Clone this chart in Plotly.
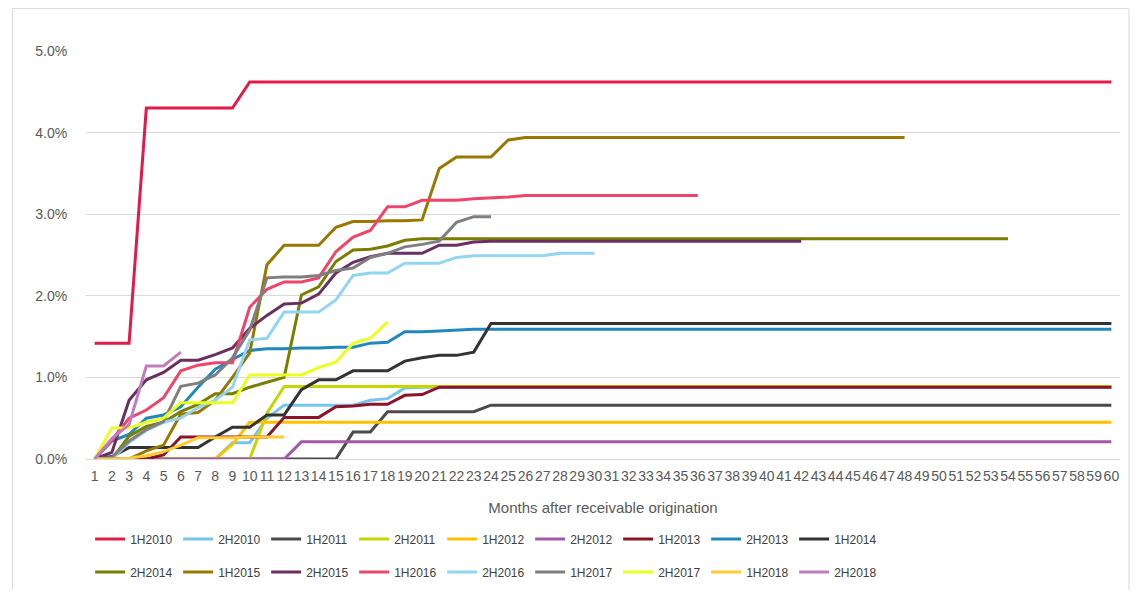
import plotly.graph_objects as go

months = list(range(1, 61))
month_labels = [str(m) for m in months]

series_names = ["1H2010", "2H2010", "1H2011", "2H2011", "1H2012", "2H2012",
                "1H2013", "2H2013", "1H2014", "2H2014", "1H2015", "2H2015",
                "1H2016", "2H2016", "1H2017", "2H2017", "1H2018", "2H2018"]

s_1H2010 = [1.42, 1.42, 1.42, 4.30, 4.30, 4.30, 4.30, 4.30, 4.30, 4.62,
            4.62, 4.62, 4.62, 4.62, 4.62, 4.62, 4.62, 4.62, 4.62, 4.62,
            4.62, 4.62, 4.62, 4.62, 4.62, 4.62, 4.62, 4.62, 4.62, 4.62,
            4.62, 4.62, 4.62, 4.62, 4.62, 4.62, 4.62, 4.62, 4.62, 4.62,
            4.62, 4.62, 4.62, 4.62, 4.62, 4.62, 4.62, 4.62, 4.62, 4.62,
            4.62, 4.62, 4.62, 4.62, 4.62, 4.62, 4.62, 4.62, 4.62, 4.62]
s_2H2010 = [0.00, 0.00, 0.00, 0.00, 0.00, 0.00, 0.00, 0.00, 0.20, 0.20,
            0.50, 0.66, 0.66, 0.66, 0.66, 0.66, 0.72, 0.74, 0.87, 0.88,
            0.88, 0.88, 0.88, 0.88, 0.88, 0.88, 0.88, 0.88, 0.88, 0.88,
            0.88, 0.88, 0.88, 0.88, 0.88, 0.88, 0.88, 0.88, 0.88, 0.88,
            0.88, 0.88, 0.88, 0.88, 0.88, 0.88, 0.88, 0.88, 0.88, 0.88,
            0.88, 0.88, 0.88, 0.88, 0.88, 0.88, 0.88, 0.88, 0.88, 0.88]
s_1H2011 = [0.00, 0.00, 0.00, 0.00, 0.00, 0.00, 0.00, 0.00, 0.00, 0.00,
            0.00, 0.00, 0.00, 0.00, 0.00, 0.33, 0.33, 0.58, 0.58, 0.58,
            0.58, 0.58, 0.58, 0.66, 0.66, 0.66, 0.66, 0.66, 0.66, 0.66,
            0.66, 0.66, 0.66, 0.66, 0.66, 0.66, 0.66, 0.66, 0.66, 0.66,
            0.66, 0.66, 0.66, 0.66, 0.66, 0.66, 0.66, 0.66, 0.66, 0.66,
            0.66, 0.66, 0.66, 0.66, 0.66, 0.66, 0.66, 0.66, 0.66, 0.66]
s_2H2011 = [0.00, 0.00, 0.00, 0.00, 0.00, 0.00, 0.00, 0.00, 0.00, 0.00,
            0.56, 0.89, 0.89, 0.89, 0.89, 0.89, 0.89, 0.89, 0.89, 0.89,
            0.89, 0.89, 0.89, 0.89, 0.89, 0.89, 0.89, 0.89, 0.89, 0.89,
            0.89, 0.89, 0.89, 0.89, 0.89, 0.89, 0.89, 0.89, 0.89, 0.89,
            0.89, 0.89, 0.89, 0.89, 0.89, 0.89, 0.89, 0.89, 0.89, 0.89,
            0.89, 0.89, 0.89, 0.89, 0.89, 0.89, 0.89, 0.89, 0.89, 0.89]
s_1H2012 = [0.00, 0.00, 0.00, 0.00, 0.00, 0.00, 0.00, 0.00, 0.18, 0.45,
            0.45, 0.45, 0.45, 0.45, 0.45, 0.45, 0.45, 0.45, 0.45, 0.45,
            0.45, 0.45, 0.45, 0.45, 0.45, 0.45, 0.45, 0.45, 0.45, 0.45,
            0.45, 0.45, 0.45, 0.45, 0.45, 0.45, 0.45, 0.45, 0.45, 0.45,
            0.45, 0.45, 0.45, 0.45, 0.45, 0.45, 0.45, 0.45, 0.45, 0.45,
            0.45, 0.45, 0.45, 0.45, 0.45, 0.45, 0.45, 0.45, 0.45, 0.45]
s_2H2012 = [0.00, 0.00, 0.00, 0.00, 0.00, 0.00, 0.00, 0.00, 0.00, 0.00,
            0.00, 0.00, 0.21, 0.21, 0.21, 0.21, 0.21, 0.21, 0.21, 0.21,
            0.21, 0.21, 0.21, 0.21, 0.21, 0.21, 0.21, 0.21, 0.21, 0.21,
            0.21, 0.21, 0.21, 0.21, 0.21, 0.21, 0.21, 0.21, 0.21, 0.21,
            0.21, 0.21, 0.21, 0.21, 0.21, 0.21, 0.21, 0.21, 0.21, 0.21,
            0.21, 0.21, 0.21, 0.21, 0.21, 0.21, 0.21, 0.21, 0.21, 0.21]
s_1H2013 = [0.00, 0.00, 0.00, 0.00, 0.05, 0.27, 0.27, 0.27, 0.27, 0.27,
            0.27, 0.51, 0.51, 0.51, 0.64, 0.65, 0.67, 0.67, 0.78, 0.79,
            0.88, 0.88, 0.88, 0.88, 0.88, 0.88, 0.88, 0.88, 0.88, 0.88,
            0.88, 0.88, 0.88, 0.88, 0.88, 0.88, 0.88, 0.88, 0.88, 0.88,
            0.88, 0.88, 0.88, 0.88, 0.88, 0.88, 0.88, 0.88, 0.88, 0.88,
            0.88, 0.88, 0.88, 0.88, 0.88, 0.88, 0.88, 0.88, 0.88, 0.88]
s_2H2013 = [0.00, 0.22, 0.30, 0.50, 0.54, 0.64, 0.88, 1.10, 1.22, 1.33,
            1.35, 1.35, 1.36, 1.36, 1.37, 1.37, 1.42, 1.43, 1.56, 1.56,
            1.57, 1.58, 1.59, 1.59, 1.59, 1.59, 1.59, 1.59, 1.59, 1.59,
            1.59, 1.59, 1.59, 1.59, 1.59, 1.59, 1.59, 1.59, 1.59, 1.59,
            1.59, 1.59, 1.59, 1.59, 1.59, 1.59, 1.59, 1.59, 1.59, 1.59,
            1.59, 1.59, 1.59, 1.59, 1.59, 1.59, 1.59, 1.59, 1.59, 1.59]
s_1H2014 = [0.00, 0.03, 0.14, 0.14, 0.14, 0.14, 0.14, 0.27, 0.39, 0.39,
            0.54, 0.54, 0.85, 0.97, 0.97, 1.08, 1.08, 1.08, 1.20, 1.24,
            1.27, 1.27, 1.31, 1.66, 1.66, 1.66, 1.66, 1.66, 1.66, 1.66,
            1.66, 1.66, 1.66, 1.66, 1.66, 1.66, 1.66, 1.66, 1.66, 1.66,
            1.66, 1.66, 1.66, 1.66, 1.66, 1.66, 1.66, 1.66, 1.66, 1.66,
            1.66, 1.66, 1.66, 1.66, 1.66, 1.66, 1.66, 1.66, 1.66, 1.66]
s_2H2014 = [0.00, 0.00, 0.28, 0.40, 0.45, 0.58, 0.67, 0.80, 0.80, 0.88,
            0.94, 1.00, 2.01, 2.11, 2.42, 2.56, 2.57, 2.61, 2.68, 2.70,
            2.70, 2.70, 2.70, 2.70, 2.70, 2.70, 2.70, 2.70, 2.70, 2.70,
            2.70, 2.70, 2.70, 2.70, 2.70, 2.70, 2.70, 2.70, 2.70, 2.70,
            2.70, 2.70, 2.70, 2.70, 2.70, 2.70, 2.70, 2.70, 2.70, 2.70,
            2.70, 2.70, 2.70, 2.70]
s_1H2015 = [0.00, 0.00, 0.00, 0.10, 0.17, 0.55, 0.57, 0.72, 1.00, 1.30,
            2.38, 2.62, 2.62, 2.62, 2.84, 2.91, 2.91, 2.92, 2.92, 2.93,
            3.56, 3.70, 3.70, 3.70, 3.91, 3.94, 3.94, 3.94, 3.94, 3.94,
            3.94, 3.94, 3.94, 3.94, 3.94, 3.94, 3.94, 3.94, 3.94, 3.94,
            3.94, 3.94, 3.94, 3.94, 3.94, 3.94, 3.94, 3.94]
s_2H2015 = [0.00, 0.08, 0.72, 0.97, 1.06, 1.21, 1.21, 1.28, 1.36, 1.60,
            1.76, 1.90, 1.91, 2.02, 2.28, 2.41, 2.48, 2.52, 2.52, 2.52,
            2.62, 2.62, 2.66, 2.67, 2.67, 2.67, 2.67, 2.67, 2.67, 2.67,
            2.67, 2.67, 2.67, 2.67, 2.67, 2.67, 2.67, 2.67, 2.67, 2.67,
            2.67, 2.67]
s_1H2016 = [0.00, 0.23, 0.50, 0.60, 0.75, 1.08, 1.15, 1.18, 1.18, 1.86,
            2.08, 2.17, 2.17, 2.22, 2.54, 2.72, 2.80, 3.09, 3.09, 3.17,
            3.17, 3.17, 3.19, 3.20, 3.21, 3.23, 3.23, 3.23, 3.23, 3.23,
            3.23, 3.23, 3.23, 3.23, 3.23, 3.23]
s_2H2016 = [0.00, 0.00, 0.20, 0.35, 0.45, 0.50, 0.63, 0.72, 0.88, 1.46,
            1.48, 1.80, 1.80, 1.80, 1.95, 2.25, 2.28, 2.28, 2.40, 2.40,
            2.40, 2.47, 2.49, 2.49, 2.49, 2.49, 2.49, 2.52, 2.52, 2.52]
s_1H2017 = [0.00, 0.02, 0.22, 0.36, 0.46, 0.89, 0.93, 1.03, 1.24, 1.58,
            2.22, 2.23, 2.23, 2.25, 2.31, 2.34, 2.47, 2.52, 2.60, 2.63,
            2.67, 2.90, 2.97, 2.97]
s_2H2017 = [0.00, 0.38, 0.38, 0.45, 0.50, 0.69, 0.69, 0.69, 0.69, 1.03,
            1.03, 1.03, 1.03, 1.12, 1.19, 1.42, 1.48, 1.68]
s_1H2018 = [0.00, 0.00, 0.01, 0.04, 0.09, 0.17, 0.26, 0.26, 0.26, 0.27,
            0.27, 0.27]
s_2H2018 = [0.00, 0.25, 0.42, 1.14, 1.14, 1.31]

series_values = [s_1H2010, s_2H2010, s_1H2011, s_2H2011, s_1H2012, s_2H2012,
                 s_1H2013, s_2H2013, s_1H2014, s_2H2014, s_1H2015, s_2H2015,
                 s_1H2016, s_2H2016, s_1H2017, s_2H2017, s_1H2018, s_2H2018]

colors = ["#E31A47", "#74C6EC", "#4B4B4B", "#C5D600", "#FFC000", "#A35AA5",
          "#8C1328", "#1F88BC", "#333333", "#7A7E00", "#9A7700", "#6A2E62",
          "#F0456A", "#92D5F2", "#7F7F7F", "#EAFF1F", "#FFCC33", "#C07DBD"]

y_ticks = [0, 1, 2, 3, 4, 5]
y_labels = ["0.0%", "1.0%", "2.0%", "3.0%", "4.0%", "5.0%"]

FONT = "Liberation Sans, Arial, sans-serif"
TXT = "#595959"

# figure geometry (the page adds an 8px body margin on every side)
W, H = 1122, 582
ML, MR, MT = 77.5, 9.5, 43
PW = W - ML - MR
PH = 408
MB = H - MT - PH

fig = go.Figure()
for idx, (name, vals, col) in enumerate(zip(series_names, series_values, colors)):
    fig.add_trace(go.Scatter(
        x=months[:len(vals)], y=vals, name=name, mode="lines",
        line=dict(color=col, width=3),
        legend="legend" if idx < 9 else "legend2",
    ))

legend_common = dict(
    orientation="h", xanchor="left", yanchor="middle",
    font=dict(family=FONT, size=12, color="#404040"),
    entrywidth=43, entrywidthmode="pixels",
    bgcolor="rgba(0,0,0,0)", borderwidth=0, itemwidth=30,
)

fig.update_layout(
    width=W, height=H,
    margin=dict(l=ML, r=MR, t=MT, b=MB, pad=0, autoexpand=False),
    paper_bgcolor="white", plot_bgcolor="white",
    font=dict(family=FONT, color=TXT),
    showlegend=True,
    legend=dict(x=0.004, y=-0.196, **legend_common),
    legend2=dict(x=0.004, y=-0.277, **legend_common),
    xaxis=dict(
        range=[0.5, 60.5], tickmode="array", tickvals=months, ticktext=month_labels,
        tickangle=0, showgrid=False, zeroline=False, automargin=False,
        showline=True, linecolor="#D9D9D9", linewidth=1,
        ticks="outside", ticklen=4, tickcolor="rgba(0,0,0,0)",
        tickfont=dict(family=FONT, size=14, color=TXT),
        title=dict(text="Months after receivable origination",
                   font=dict(family=FONT, size=15, color=TXT), standoff=19),
    ),
    yaxis=dict(
        range=[0, 5], tickmode="array", tickvals=y_ticks, ticktext=y_labels,
        showgrid=True, gridcolor="#D9D9D9", gridwidth=1, zeroline=False,
        showline=False, ticks="outside", ticklen=15, tickcolor="rgba(0,0,0,0)",
        automargin=False,
        tickfont=dict(family=FONT, size=14, color=TXT),
    ),
    shapes=[dict(type="rect", xref="paper", yref="paper",
                 x0=(4 - ML) / PW, x1=(1121.5 - ML) / PW,
                 y0=(MT + PH - 600) / PH, y1=(MT + PH - 0.5) / PH,
                 line=dict(color="#D9D9D9", width=1), fillcolor="rgba(0,0,0,0)",
                 layer="below")],
)

fig.write_html("out.html")
